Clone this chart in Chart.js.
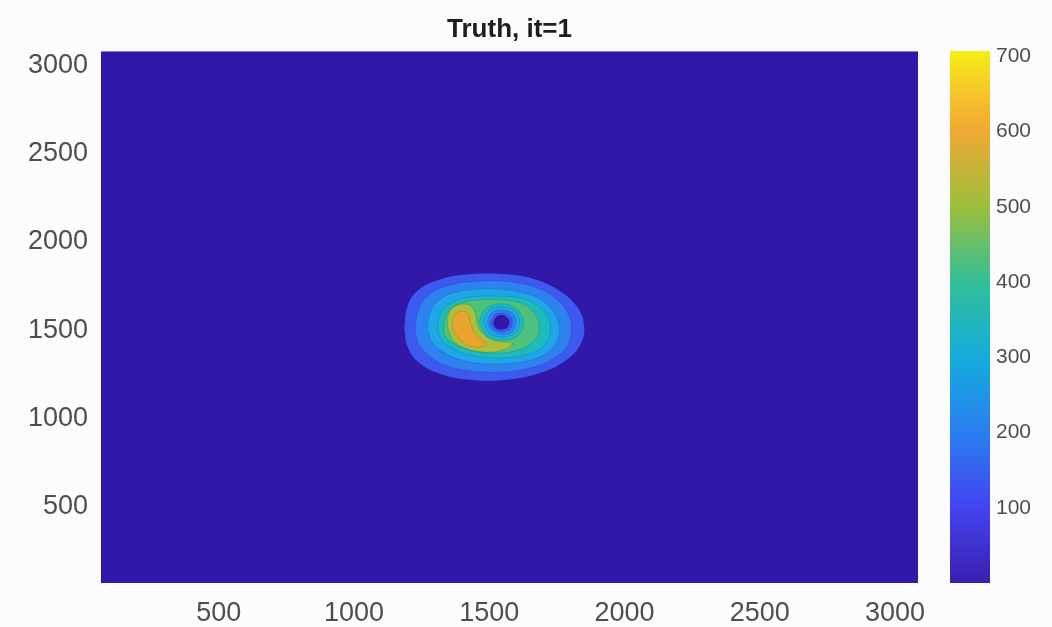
<!DOCTYPE html>
<html>
<head>
<meta charset="utf-8">
<script src="https://cdn.jsdelivr.net/npm/chart.js@4.4.1/dist/chart.umd.min.js"></script>
<style>
  html, body { margin: 0; padding: 0; background: #fcfbfe; }
  #wrap { position: relative; width: 1052px; height: 627px; }
  canvas { position: absolute; left: 0; top: 0; filter: blur(0.6px); }
</style>
</head>
<body>
<div id="wrap">
  <canvas id="fieldChart" width="1052" height="627"></canvas>
  <canvas id="barChart" width="1052" height="627"></canvas>
</div>
<script>
// axes
const xRange = [65, 3085];
const yRange = [70, 3079];
const xTicks = [500, 1000, 1500, 2000, 2500, 3000];
const yTicks = [500, 1000, 1500, 2000, 2500, 3000];

// colorbar
const cbarRange = [0, 707];
const cbarTicks = [100, 200, 300, 400, 500, 600, 700];
const cbarStops = [0, 100, 200, 300, 400, 500, 600, 650, 707];
const cbarColors = ["#3a1fae", "#4343f0", "#2a7ef0", "#14acdc", "#33bf98", "#9cbf3c", "#f0a834", "#f6c42a", "#f6ee14"];

// filled contour bands, outer to inner (data units)
const bandColors = ["#3218a8", "#3c5af0", "#2e82f0", "#1fa6e6", "#1dbabc", "#4cc27c", "#a8c03a", "#eaa42e"];

const ring1X = [1186, 1197, 1237, 1319, 1430, 1559, 1670, 1763, 1826, 1851, 1840, 1785, 1689, 1559, 1430, 1319, 1237, 1197];
const ring1Y = [1512, 1636, 1727, 1789, 1818, 1818, 1789, 1721, 1631, 1529, 1427, 1331, 1258, 1218, 1218, 1252, 1320, 1410];

const ring2X = [1226, 1241, 1282, 1356, 1467, 1578, 1678, 1748, 1792, 1803, 1785, 1726, 1633, 1522, 1411, 1319, 1260, 1234];
const ring2Y = [1512, 1625, 1704, 1756, 1778, 1773, 1739, 1677, 1591, 1501, 1405, 1331, 1280, 1263, 1275, 1314, 1382, 1444];

const ring3X = [1271, 1285, 1326, 1393, 1493, 1596, 1681, 1733, 1759, 1748, 1700, 1615, 1511, 1411, 1337, 1289];
const ring3Y = [1512, 1614, 1682, 1721, 1733, 1721, 1682, 1614, 1524, 1433, 1360, 1320, 1309, 1326, 1371, 1433];

const ring4X = [1308, 1322, 1363, 1430, 1522, 1615, 1681, 1718, 1726, 1700, 1633, 1530, 1430, 1363, 1322];
const ring4Y = [1518, 1603, 1659, 1688, 1693, 1682, 1637, 1569, 1490, 1410, 1360, 1343, 1360, 1399, 1450];

const ring5X = [1330, 1345, 1385, 1459, 1548, 1626, 1670, 1685, 1666, 1607, 1518, 1430, 1367, 1337];
const ring5Y = [1518, 1597, 1648, 1671, 1671, 1648, 1591, 1512, 1439, 1388, 1371, 1388, 1427, 1467];

// the dip in the middle, outer to inner
const dip4X = [1463, 1481, 1530, 1585, 1618, 1626, 1604, 1548, 1493];
const dip4Y = [1546, 1614, 1648, 1637, 1591, 1529, 1467, 1444, 1467];
const dip3X = [1478, 1496, 1537, 1585, 1607, 1611, 1589, 1545, 1500];
const dip3Y = [1546, 1608, 1631, 1620, 1580, 1524, 1478, 1461, 1484];
const dip2X = [1493, 1508, 1541, 1578, 1596, 1596, 1578, 1541, 1508];
const dip2Y = [1546, 1597, 1614, 1603, 1569, 1518, 1484, 1478, 1501];
const dip1X = [1504, 1519, 1545, 1571, 1585, 1582, 1563, 1530, 1511];
const dip1Y = [1546, 1586, 1597, 1586, 1558, 1518, 1495, 1495, 1518];
const dip0X = [1515, 1526, 1545, 1563, 1574, 1571, 1556, 1530, 1519];
const dip0Y = [1546, 1575, 1586, 1575, 1552, 1524, 1507, 1507, 1524];

// crescent peak on the left of the dip
const ring6X = [1345, 1352, 1382, 1426, 1448, 1456, 1478, 1526, 1585, 1552, 1482, 1411, 1367];
const ring6Y = [1524, 1603, 1642, 1642, 1597, 1535, 1478, 1439, 1427, 1388, 1377, 1399, 1444];
const ring7X = [1363, 1370, 1393, 1419, 1430, 1445, 1474, 1489, 1448, 1400];
const ring7Y = [1512, 1580, 1608, 1597, 1546, 1490, 1444, 1416, 1405, 1433];

const tickFont = { family: "'Liberation Sans', Arial, sans-serif", size: 27 };
const tickColor = "#4e4e4e";

function shape(xs, ys, color, tension = 0.4) {
  const pts = xs.map((x, i) => ({ x: x, y: ys[i] }));
  pts.push(pts[0]);
  return {
    data: pts,
    showLine: true,
    fill: "shape",
    backgroundColor: color,
    borderColor: "rgba(30,20,90,0.15)",
    borderWidth: 1,
    pointRadius: 0,
    tension: tension,
  };
}

// drawn bottom to top
const layers = [
  shape([xRange[0], xRange[1], xRange[1], xRange[0]], [yRange[0], yRange[0], yRange[1], yRange[1]], bandColors[0], 0),
  shape(ring1X, ring1Y, bandColors[1]),
  shape(ring2X, ring2Y, bandColors[2]),
  shape(ring3X, ring3Y, bandColors[3]),
  shape(ring4X, ring4Y, bandColors[4]),
  shape(ring5X, ring5Y, bandColors[5]),
  shape(dip4X, dip4Y, bandColors[4]),
  shape(dip3X, dip3Y, bandColors[3]),
  shape(dip2X, dip2Y, bandColors[2]),
  shape(dip1X, dip1Y, bandColors[1]),
  shape(dip0X, dip0Y, bandColors[0]),
  shape(ring6X, ring6Y, bandColors[6]),
  shape(ring7X, ring7Y, bandColors[7]),
];
layers.forEach((d, i) => { d.order = layers.length - i; });
layers[0].borderWidth = 0;

const fieldChart = new Chart(document.getElementById("fieldChart"), {
  type: "scatter",
  data: { datasets: layers },
  options: {
    responsive: false,
    animation: false,
    layout: { padding: { left: 0, right: 134, top: 0, bottom: 0 } },
    plugins: {
      legend: { display: false },
      tooltip: { enabled: false },
      title: {
        display: true,
        text: "Truth, it=1",
        fullSize: false,
        color: "#1e1e1e",
        font: { family: "'Liberation Sans', Arial, sans-serif", size: 26, weight: "bold" },
        padding: { top: 14, bottom: 6 },
      },
    },
    scales: {
      x: {
        type: "linear",
        min: xRange[0],
        max: xRange[1],
        afterBuildTicks: (s) => { s.ticks = xTicks.map((v) => ({ value: v })); },
        afterFit: (s) => { s.height = 44; },
        grid: { display: false, drawTicks: false },
        border: { display: false },
        ticks: { font: tickFont, color: tickColor, padding: 14, maxRotation: 0, callback: (v) => String(v) },
      },
      y: {
        type: "linear",
        min: yRange[0],
        max: yRange[1],
        afterBuildTicks: (s) => { s.ticks = yTicks.map((v) => ({ value: v })); },
        afterFit: (s) => { s.width = 101; },
        grid: { display: false, drawTicks: false },
        border: { display: false },
        ticks: { font: tickFont, color: tickColor, padding: 13, callback: (v) => String(v) },
      },
    },
  },
});

// colorbar
function cbarGradient(ctx) {
  const chart = ctx.chart;
  if (!chart.chartArea) return cbarColors[0];
  const ys = chart.scales.y;
  const g = chart.ctx.createLinearGradient(0, ys.getPixelForValue(cbarRange[0]), 0, ys.getPixelForValue(cbarRange[1]));
  cbarStops.forEach((v, i) => g.addColorStop((v - cbarRange[0]) / (cbarRange[1] - cbarRange[0]), cbarColors[i]));
  return g;
}

const barChart = new Chart(document.getElementById("barChart"), {
  type: "bar",
  data: {
    labels: [""],
    datasets: [{
      data: [cbarRange],
      backgroundColor: cbarGradient,
      borderWidth: 0,
      barPercentage: 1,
      categoryPercentage: 1,
    }],
  },
  options: {
    responsive: false,
    animation: false,
    layout: { padding: { left: 950, right: 0, top: 51, bottom: 44 } },
    plugins: { legend: { display: false }, tooltip: { enabled: false } },
    scales: {
      x: { display: false },
      y: {
        position: "right",
        min: cbarRange[0],
        max: cbarRange[1],
        afterBuildTicks: (s) => { s.ticks = cbarTicks.map((v) => ({ value: v })); },
        afterFit: (s) => { s.width = 62; },
        grid: { display: false, drawTicks: false },
        border: { display: false },
        ticks: { font: { family: "'Liberation Sans', Arial, sans-serif", size: 21 }, color: tickColor, padding: 6 },
      },
    },
  },
});
</script>
</body>
</html>
